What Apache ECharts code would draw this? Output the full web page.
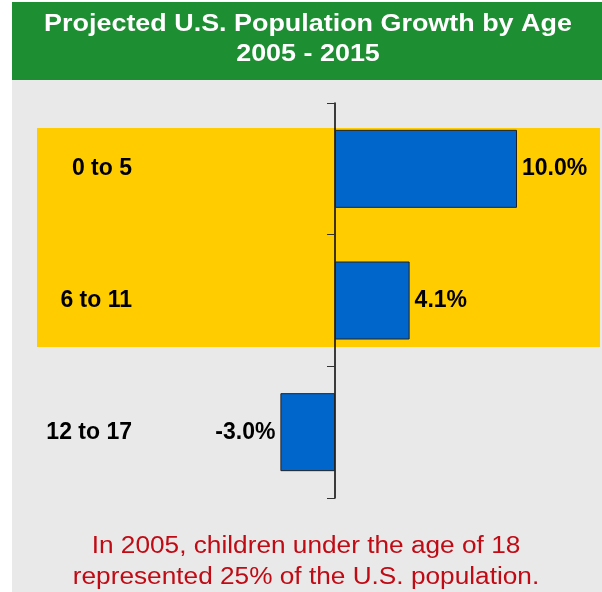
<!DOCTYPE html>
<html><head><meta charset="utf-8">
<script src="https://cdn.jsdelivr.net/npm/echarts@6/dist/echarts.min.js"></script>
<style>html,body{margin:0;padding:0;background:#fff}#c{width:602px;height:592px}</style>
</head><body><div id="c"></div>
<script>
const categories = ['0 to 5', '6 to 11', '12 to 17'];
const growth = [10.0, 4.1, -3.0];
const titleText = 'Projected U.S. Population Growth by Age\n2005 - 2015';
const footText = 'In 2005, children under the age of 18\nrepresented 25% of the U.S. population.';

const chart = echarts.init(document.getElementById('c'));
const font = '"Liberation Sans", Arial, sans-serif';
chart.setOption({
  animation: false,
  backgroundColor: '#ffffff',
  graphic: [
    {type:'rect', z:-10, shape:{x:12,y:2,width:590,height:78}, style:{fill:'#1e8e32'}},
    {type:'rect', z:-10, shape:{x:12,y:80,width:590,height:512}, style:{fill:'#e9e9e9'}},
    {type:'rect', z:-9, shape:{x:37,y:128,width:563,height:219}, style:{fill:'#ffcc00'}},
    {type:'text', z:10, x:308, y:10, scaleX:1.17, style:{text:titleText, fill:'#ffffff', font:'bold 23px ' + font, align:'center', lineHeight:30}},
    {type:'text', z:10, x:306, y:531, scaleX:1.14, style:{text:footText, fill:'#c00a14', font:'23px ' + font, align:'center', lineHeight:31}}
  ],
  grid: {left:153, width:364, top:103, height:395, containLabel:false, outerBoundsMode:'none'},
  xAxis: {type:'value', min:-10, max:10, show:false},
  yAxis: [{
    type:'category', data:categories, inverse:true,
    axisLine:{show:true, onZero:true, lineStyle:{color:'#000', width:1.5}},
    axisTick:{show:true, length:8, lineStyle:{color:'#333'}},
    axisLabel:{show:false},
    splitLine:{show:false}
  }, {
    type:'category', data:categories, inverse:true, position:'left',
    axisLine:{show:false, onZero:false}, axisTick:{show:false},
    axisLabel:{margin:21, color:'#000', fontWeight:'bold', fontSize:23, fontFamily:font, padding:[4,0,0,0]},
    splitLine:{show:false}
  }],
  series: [{
    type:'bar', data:growth.map(v => ({value:v, label:{position: v < 0 ? 'left' : 'right'}})),
    barWidth:78,
    itemStyle:{color:'#0066cc', borderColor:'#222', borderWidth:1},
    label:{show:true, color:'#000', fontWeight:'bold', fontSize:23, fontFamily:font, distance:5, padding:[4,0,0,0],
      formatter: p => p.value.toFixed(1) + '%'}
  }]
});
</script></body></html>
